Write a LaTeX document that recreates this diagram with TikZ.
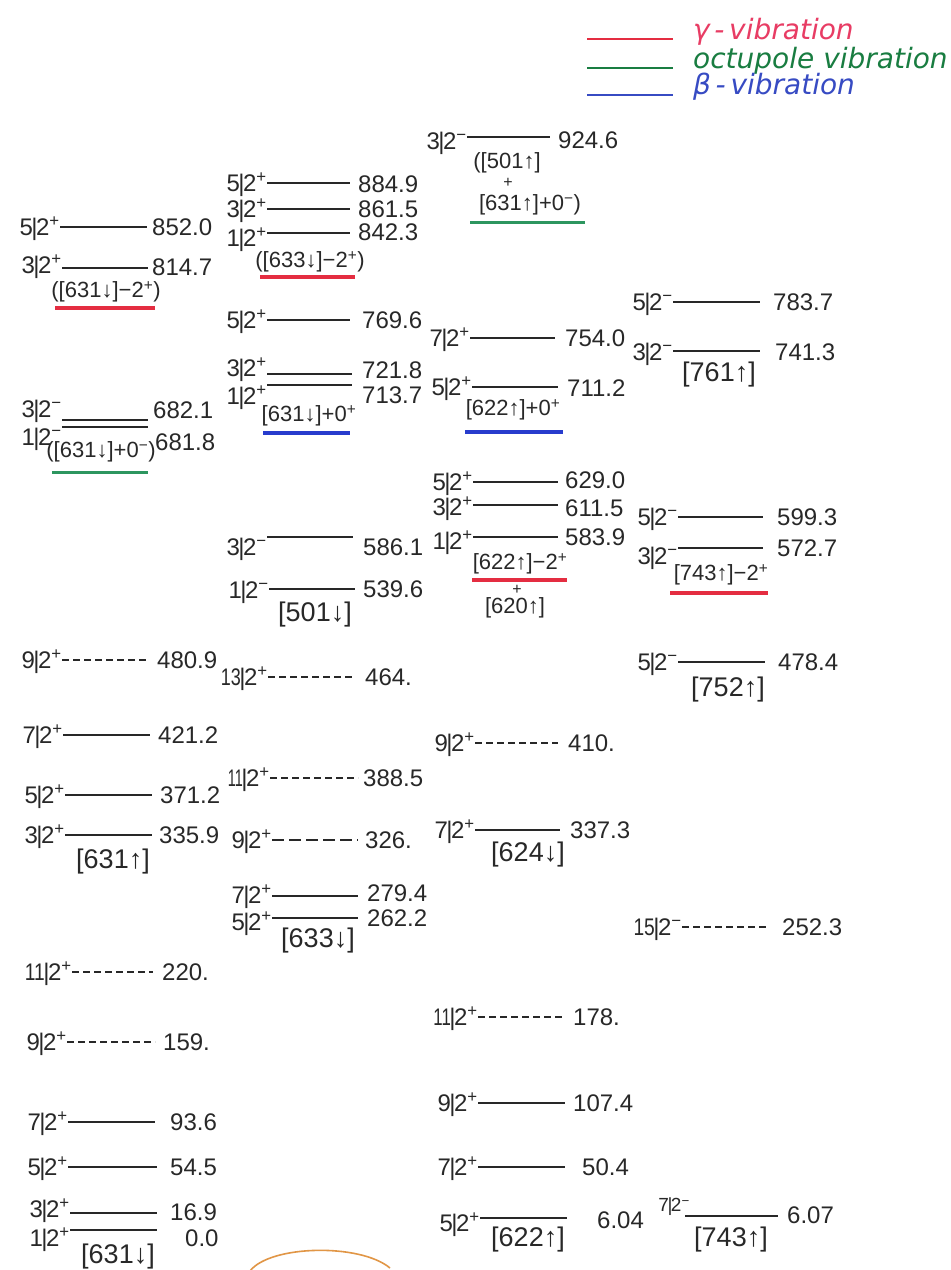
\documentclass[tikz,border=0pt]{standalone}
\usepackage{fontspec}
\setmainfont{Liberation Sans}
\newfontfamily\hand{DejaVu Sans}
\definecolor{gamred}{RGB}{228,45,65}
\definecolor{gamtext}{RGB}{232,60,100}
\definecolor{octgreen}{RGB}{45,150,95}
\definecolor{octtext}{RGB}{25,125,65}
\definecolor{betblue}{RGB}{40,60,205}
\definecolor{betatext}{RGB}{55,75,195}
\definecolor{ink}{RGB}{40,40,40}
\definecolor{arcorange}{RGB}{225,150,70}
\newcommand\J[2]{#1\kern-1.5pt|\kern-1.5pt2\textsuperscript{#2}}
\newcommand\two[2]{\scalebox{#1}[1]{#2}}
\newcommand\arU{↑}
\newcommand\arD{↓}
\tikzset{
 lv/.style={line width=2.2pt, draw=ink},
 dl/.style={line width=2.2pt, draw=ink, dash pattern=on 7pt off 4pt},
 dlong/.style={line width=2.2pt, draw=ink, dash pattern=on 12pt off 5pt},
 jp/.style={font=\fontsize{24}{24}\selectfont, text=ink, inner sep=0pt, anchor=base east, yshift=-8.6pt},
 jps/.style={font=\fontsize{19}{19}\selectfont, text=ink, inner sep=0pt, anchor=base east, yshift=-6.8pt},
 val/.style={font=\fontsize{24}{24}\selectfont, text=ink, inner sep=0pt, anchor=base west, yshift=-8.6pt},
 orb/.style={font=\fontsize{22}{22}\selectfont, text=ink, inner sep=0pt},
 plus/.style={font=\fontsize{16}{16}\selectfont, text=ink, inner sep=0pt},
 basis/.style={font=\fontsize{27}{27}\selectfont, text=ink, inner sep=0pt},
 gam/.style={line width=3.5pt, draw=gamred},
 oct/.style={line width=3pt, draw=octgreen},
 bet/.style={line width=3.5pt, draw=betblue},
 legline/.style={line width=1.4pt},
 leg/.style={font=\hand\itshape\fontsize{28}{28}\selectfont, inner sep=0pt, anchor=west},
}
\newcommand\lev[9]{%
 \draw[#2] (#3,#5) coordinate (#1a) -- (#4,#5) coordinate (#1b);
 \node[jp] (#1j) at (#3,#7) {#6};
 \node[val] (#1v) at (#9) {#8};
}
\begin{document}
\begin{tikzpicture}[x=1pt,y=-1pt]
\useasboundingbox[fill=white] (0,0) rectangle (951,1270);
% legend
\draw[legline, gamred] (587,39) coordinate (lg1a) -- (673,39) coordinate (lg1b);
\node[leg, text=gamtext] (lg1) at (693,32) {γ\,-\,vibration};
\draw[legline, octtext] (587,68) coordinate (lg2a) -- (673,68) coordinate (lg2b);
\node[leg, text=octtext] (lg2) at (693,61) {octupole vibration};
\draw[legline, betatext] (587,95) coordinate (lg3a) -- (673,95) coordinate (lg3b);
\node[leg, text=betatext] (lg3) at (693,87) {β\,-\,vibration};
% column 1
\lev{a1}{lv}{60}{147}{227}{\J5+}{227}{852.0}{152,227}
\lev{a2}{lv}{62}{148}{268}{\J3+}{265}{814.7}{152,267}
\node[orb] (a2o) at (106,292) {([631\arD]−2\textsuperscript{+})};
\draw[gam] (55,308) -- (155,308);
\lev{a3}{lv}{62}{148}{420}{\J3−}{409}{682.1}{153,410}
\lev{a4}{lv}{62}{148}{427}{\J1−}{437}{681.8}{155,442}
\node[orb] (a4o) at (101,452) {([631\arD]+0\textsuperscript{−})};
\draw[oct] (52,472) -- (148,472);
\lev{a5}{dl}{62}{148}{660}{\J9+}{660}{480.9}{157,660}
\lev{a6}{lv}{63}{150}{735}{\J7+}{735}{421.2}{158,735}
\lev{a7}{lv}{65}{152}{795}{\J5+}{795}{371.2}{160,795}
\lev{a8}{lv}{65}{152}{835}{\J3+}{835}{335.9}{159,835}
\node[basis] (a8o) at (113,862) {[631\arU]};
\lev{a9}{dl}{72}{153}{972}{\J{\two{0.8}{11}}+}{972}{220.}{162,972}
\lev{a10}{dl}{67}{155}{1042}{\J9+}{1042}{159.}{163,1042}
\lev{a11}{lv}{68}{155}{1122}{\J7+}{1122}{93.6}{170,1122}
\lev{a12}{lv}{68}{157}{1167}{\J5+}{1167}{54.5}{170,1167}
\lev{a13}{lv}{70}{157}{1213}{\J3+}{1209}{16.9}{170,1212}
\lev{a14}{lv}{70}{157}{1230}{\J1+}{1238}{0.0}{185,1238}
\node[basis] (a14o) at (118,1257) {[631\arD]};
% column 2
\lev{b1}{lv}{267}{350}{183}{\J5+}{183}{884.9}{358,184}
\lev{b2}{lv}{267}{350}{209}{\J3+}{209}{861.5}{358,209}
\lev{b3}{lv}{267}{350}{233}{\J1+}{238}{842.3}{358,232}
\node[orb] (b3o) at (310,262) {([633\arD]−2\textsuperscript{+})};
\draw[gam] (260,277) -- (355,277);
\lev{b4}{lv}{267}{350}{320}{\J5+}{320}{769.6}{362,320}
\lev{b5}{lv}{267}{352}{374}{\J3+}{368}{721.8}{362,370}
\lev{b6}{lv}{267}{352}{385}{\J1+}{396}{713.7}{362,395}
\node[orb] (b6o) at (309,416) {[631\arD]+0\textsuperscript{+}};
\draw[bet] (263,433) -- (350,433);
\lev{b7}{lv}{267}{353}{537}{\J3−}{547}{586.1}{363,547}
\lev{b8}{lv}{269}{355}{589}{\J1−}{590}{539.6}{363,589}
\node[basis] (b8o) at (315,615) {[501\arD]};
\lev{b9}{dl}{268}{355}{677}{\J{\two{0.75}{13}}+}{677}{464.}{365,677}
\lev{b10}{dl}{270}{358}{778}{\J{\two{0.6}{11}}+}{778}{388.5}{363,778}
\lev{b11}{dlong}{272}{358}{840}{\J9+}{840}{326.}{365,840}
\lev{b12}{lv}{272}{358}{896}{\J7+}{895}{279.4}{367,893}
\lev{b13}{lv}{272}{358}{918}{\J5+}{922}{262.2}{367,918}
\node[basis] (b13o) at (318,941) {[633\arD]};
% column 3
\lev{c1}{lv}{467}{550}{137}{\J3−}{141}{924.6}{558,140}
\node[orb] (c1o) at (507,163) {([501\arU]};
\node[plus] (c1p) at (508,183) {+};
\node[orb] (c1q) at (530,205) {[631\arU]+0\textsuperscript{−})};
\draw[oct] (470,222) -- (585,222);
\lev{c2}{lv}{470}{555}{338}{\J7+}{338}{754.0}{565,338}
\lev{c3}{lv}{472}{558}{387}{\J5+}{387}{711.2}{567,388}
\node[orb] (c3o) at (513,410) {[622\arU]+0\textsuperscript{+}};
\draw[bet] (465,432) -- (563,432);
\lev{c4}{lv}{473}{558}{482}{\J5+}{482}{629.0}{565,480}
\lev{c5}{lv}{473}{558}{505}{\J3+}{507}{611.5}{565,508}
\lev{c6}{lv}{473}{558}{537}{\J1+}{541}{583.9}{565,537}
\node[orb] (c6o) at (520,564) {[622\arU]−2\textsuperscript{+}};
\draw[gam] (472,580) -- (567,580);
\node[plus] (c6p) at (517,590) {+};
\node[orb] (c6q) at (515,608) {[620\arU]};
\lev{c7}{dl}{475}{558}{743}{\J9+}{743}{410.}{568,743}
\lev{c8}{lv}{475}{560}{830}{\J7+}{830}{337.3}{570,830}
\node[basis] (c8o) at (528,855) {[624\arD]};
\lev{c9}{dl}{478}{563}{1017}{\J{\two{0.7}{11}}+}{1017}{178.}{573,1017}
\lev{c10}{lv}{478}{565}{1103}{\J9+}{1103}{107.4}{573,1103}
\lev{c11}{lv}{478}{565}{1167}{\J7+}{1167}{50.4}{582,1167}
\lev{c12}{lv}{480}{567}{1218}{\J5+}{1223}{6.04}{597,1220}
\node[basis] (c12o) at (528,1240) {[622\arU]};
% column 4
\lev{d1}{lv}{673}{760}{302}{\J5−}{302}{783.7}{773,302}
\lev{d2}{lv}{673}{760}{351}{\J3−}{352}{741.3}{775,352}
\node[basis] (d2o) at (719,375) {[761\arU]};
\lev{d3}{lv}{678}{763}{517}{\J5−}{517}{599.3}{777,517}
\lev{d4}{lv}{678}{763}{548}{\J3−}{556}{572.7}{777,548}
\node[orb] (d4o) at (721,575) {[743\arU]−2\textsuperscript{+}};
\draw[gam] (670,593) -- (768,593);
\lev{d5}{lv}{678}{765}{662}{\J5−}{662}{478.4}{778,662}
\node[basis] (d5o) at (728,690) {[752\arU]};
\lev{d6}{dl}{682}{768}{927}{\J{\two{0.8}{15}}−}{927}{252.3}{782,927}
\draw[lv] (685,1216) coordinate (d7a) -- (778,1216) coordinate (d7b);
\node[jps] (d7j) at (690,1205) {\J7−};
\node[val] (d7v) at (787,1215) {6.07};
\node[basis] (d7o) at (731,1240) {[743\arU]};
% orange arc
\draw[line width=1.6pt, arcorange] (250,1271) .. controls (270,1245) and (360,1243) .. (390,1268);
\end{tikzpicture}
\end{document}
